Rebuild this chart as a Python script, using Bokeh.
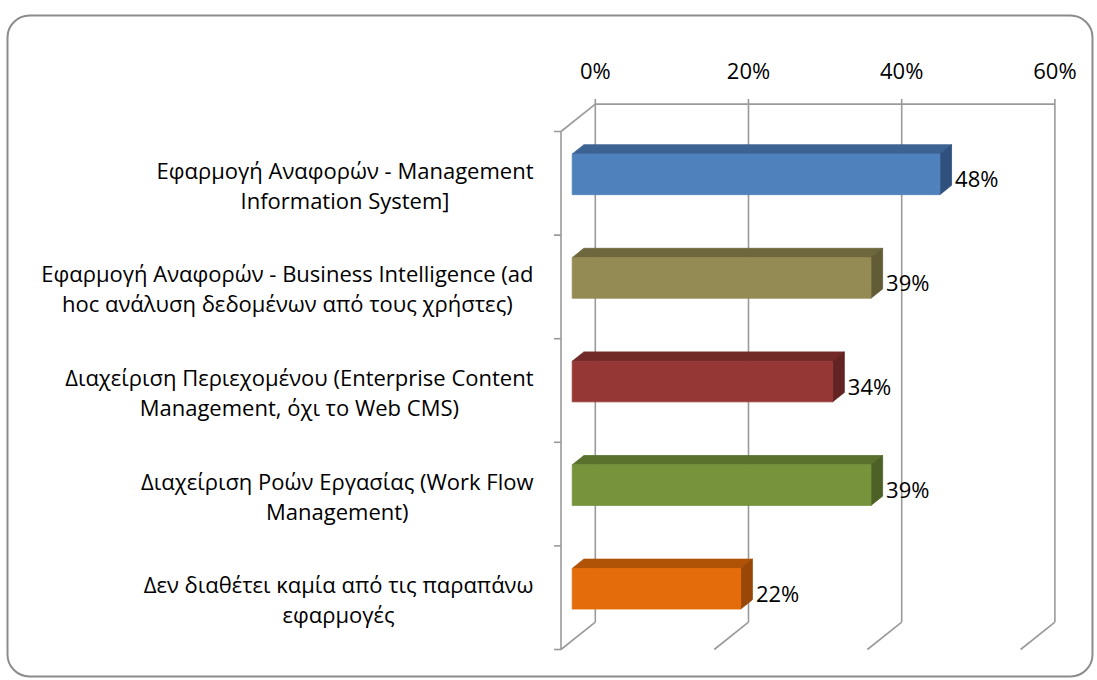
import subprocess
from bokeh.plotting import figure
from bokeh.models import Range1d
from bokeh.core.properties import value
from bokeh.embed import file_html
from bokeh.resources import INLINE

# ---------------- data ----------------
categories = [
    "Εφαρμογή Αναφορών - Management\nInformation System]",
    "Εφαρμογή Αναφορών - Business Intelligence (ad\nhoc ανάλυση δεδομένων από τους χρήστες)",
    "Διαχείριση Περιεχομένου (Enterprise Content\nManagement, όχι το Web CMS)",
    "Διαχείριση Ροών Εργασίας (Work Flow\nManagement)",
    "Δεν διαθέτει καμία από τις παραπάνω\nεφαρμογές",
]
values = [48, 39, 34, 39, 22]
value_labels = ["48%", "39%", "34%", "39%", "22%"]
x_ticks = [0, 20, 40, 60]
x_tick_labels = ["0%", "20%", "40%", "60%"]
front_colors = ["#4F81BD", "#948A54", "#953735", "#77933C", "#E46C0A"]
top_colors = ["#3D6393", "#6E673E", "#722A28", "#5A702D", "#B05307"]
side_colors = ["#30507D", "#615B36", "#632322", "#4D6127", "#984707"]

# ---------------- layout constants ----------------
W, H = 1097, 680
PAGE = 0
SX = 7.66          # px per percent
SY = 103.6         # px per category
OX, OY = 560.5, 131.0   # page position of (0%, top category boundary) at the front
DXD = 34.3 / SX    # full-depth shift (x, data units)
DYD = 27.4 / SY    # full-depth shift (y, data units, upward)
D0, D1 = 0.327, 0.667  # bar depth extent
HALF = 0.196       # half bar thickness (category units)
FONT = "Open Sans"
FS = 22
GRID = "#9A9A9A"


def px2x(px):
    return (px - OX) / SX


def py2y(py):
    return (py - OY) / SY


def proj(x, y, d):
    return x + d * DXD, y - d * DYD


def find_font(name):
    try:
        out = subprocess.run(["fc-match", "-f", "%{file}", name],
                             capture_output=True, text=True, timeout=5).stdout.strip()
        return out or None
    except Exception:
        return None


_font = None
try:
    from PIL import ImageFont
    path = find_font(FONT)
    if path:
        _font = ImageFont.truetype(path, FS)
except Exception:
    _font = None


def text_width(s):
    if _font is not None:
        try:
            return _font.getlength(s)
        except Exception:
            pass
    return len(s) * 0.55 * FS


n = len(values)
p = figure(width=W, height=H, output_backend="svg", toolbar_location=None,
           x_axis_location=None, y_axis_location=None, min_border=0,
           x_range=Range1d(px2x(PAGE), px2x(PAGE + W)),
           y_range=Range1d(py2y(PAGE + H), py2y(PAGE)))
p.outline_line_color = None
p.xgrid.visible = False
p.ygrid.visible = False
p.background_fill_color = "white"
p.border_fill_color = "white"

# rounded frame
p.quad(left=[px2x(7)], right=[px2x(1092)], top=[py2y(15)], bottom=[py2y(676)],
       fill_color=None, line_color="#8C8C8C", line_width=2, border_radius=22)

# ---------------- walls / gridlines ----------------
x0s, y0s, x1s, y1s = [], [], [], []


def seg(a, b):
    x0s.append(a[0]); y0s.append(a[1]); x1s.append(b[0]); y1s.append(b[1])


for t in x_ticks:
    seg(proj(t, 0, 1), proj(t, n, 1))          # back wall vertical
    seg(proj(t, n, 1), proj(t, n, 0))          # floor diagonal
    top = proj(t, 0, 1)
    seg(top, (top[0], top[1] - 5 / SY))        # small tick above wall
seg(proj(x_ticks[0], 0, 1), proj(x_ticks[-1], 0, 1))   # wall top edge
seg(proj(0, 0, 0), proj(0, n, 0))              # left axis
seg(proj(0, 0, 0), proj(0, 0, 1))              # side wall top diagonal
for k in range(n + 1):
    a = proj(0, k, 0)
    seg(a, (a[0] - 7 / SX, a[1]))              # category ticks
p.segment(x0=x0s, y0=y0s, x1=x1s, y1=y1s, line_color=GRID, line_width=1.6)

# ---------------- 3D bars ----------------
fx, fy, tx, ty, sx_, sy_ = [], [], [], [], [], []
for i, v in enumerate(values):
    yt, yb = i + 0.5 - HALF, i + 0.5 + HALF
    pts = [proj(0, yt, D0), proj(v, yt, D0), proj(v, yb, D0), proj(0, yb, D0)]
    fx.append([q[0] for q in pts]); fy.append([q[1] for q in pts])
    pts = [proj(0, yt, D0), proj(v, yt, D0), proj(v, yt, D1), proj(0, yt, D1)]
    tx.append([q[0] for q in pts]); ty.append([q[1] for q in pts])
    pts = [proj(v, yt, D0), proj(v, yb, D0), proj(v, yb, D1), proj(v, yt, D1)]
    sx_.append([q[0] for q in pts]); sy_.append([q[1] for q in pts])

p.patches(xs=tx, ys=ty, fill_color=top_colors, line_color=top_colors, line_width=0.8)
p.patches(xs=sx_, ys=sy_, fill_color=side_colors, line_color=side_colors, line_width=0.8)
p.patches(xs=fx, ys=fy, fill_color=front_colors, line_color=front_colors, line_width=0.8)

# ---------------- value labels ----------------
lab_x = [proj(v, 0, D1)[0] + 3.5 / SX for v in values]
lab_y = [i + 0.5 - D0 * DYD + 4 / SY for i in range(n)]
p.text(x=lab_x, y=lab_y, text=value_labels, text_align="left", text_baseline="middle",
       text_font=value(FONT), text_font_size=f"{FS}px", text_color="#000000")

# ---------------- x tick labels (top) ----------------
tick_x = [proj(t, 0, 1)[0] for t in x_ticks]
tick_y = [proj(0, 0, 1)[1] - 34 / SY for _ in x_ticks]
p.text(x=tick_x, y=tick_y, text=x_tick_labels, text_align="center", text_baseline="middle",
       text_font=value(FONT), text_font_size=f"{FS}px", text_color="#000000")

# ---------------- category labels (centred lines, right-aligned block) ----------------
RIGHT = px2x(533)
LG = 30 / SY
cx, cy, ct = [], [], []
for i, lab in enumerate(categories):
    lines = lab.split("\n")
    bw = max(text_width(s) for s in lines) / SX
    centre = RIGHT - bw / 2
    m = len(lines)
    for j, s in enumerate(lines):
        cx.append(centre)
        cy.append(i + 0.5 + (j - (m - 1) / 2) * LG + 1.5 / SY)
        ct.append(s)
p.text(x=cx, y=cy, text=ct, text_align="center", text_baseline="middle",
       text_font=value(FONT), text_font_size=f"{FS}px", text_color="#000000")

open("out.html", "w").write(file_html(p, INLINE))
